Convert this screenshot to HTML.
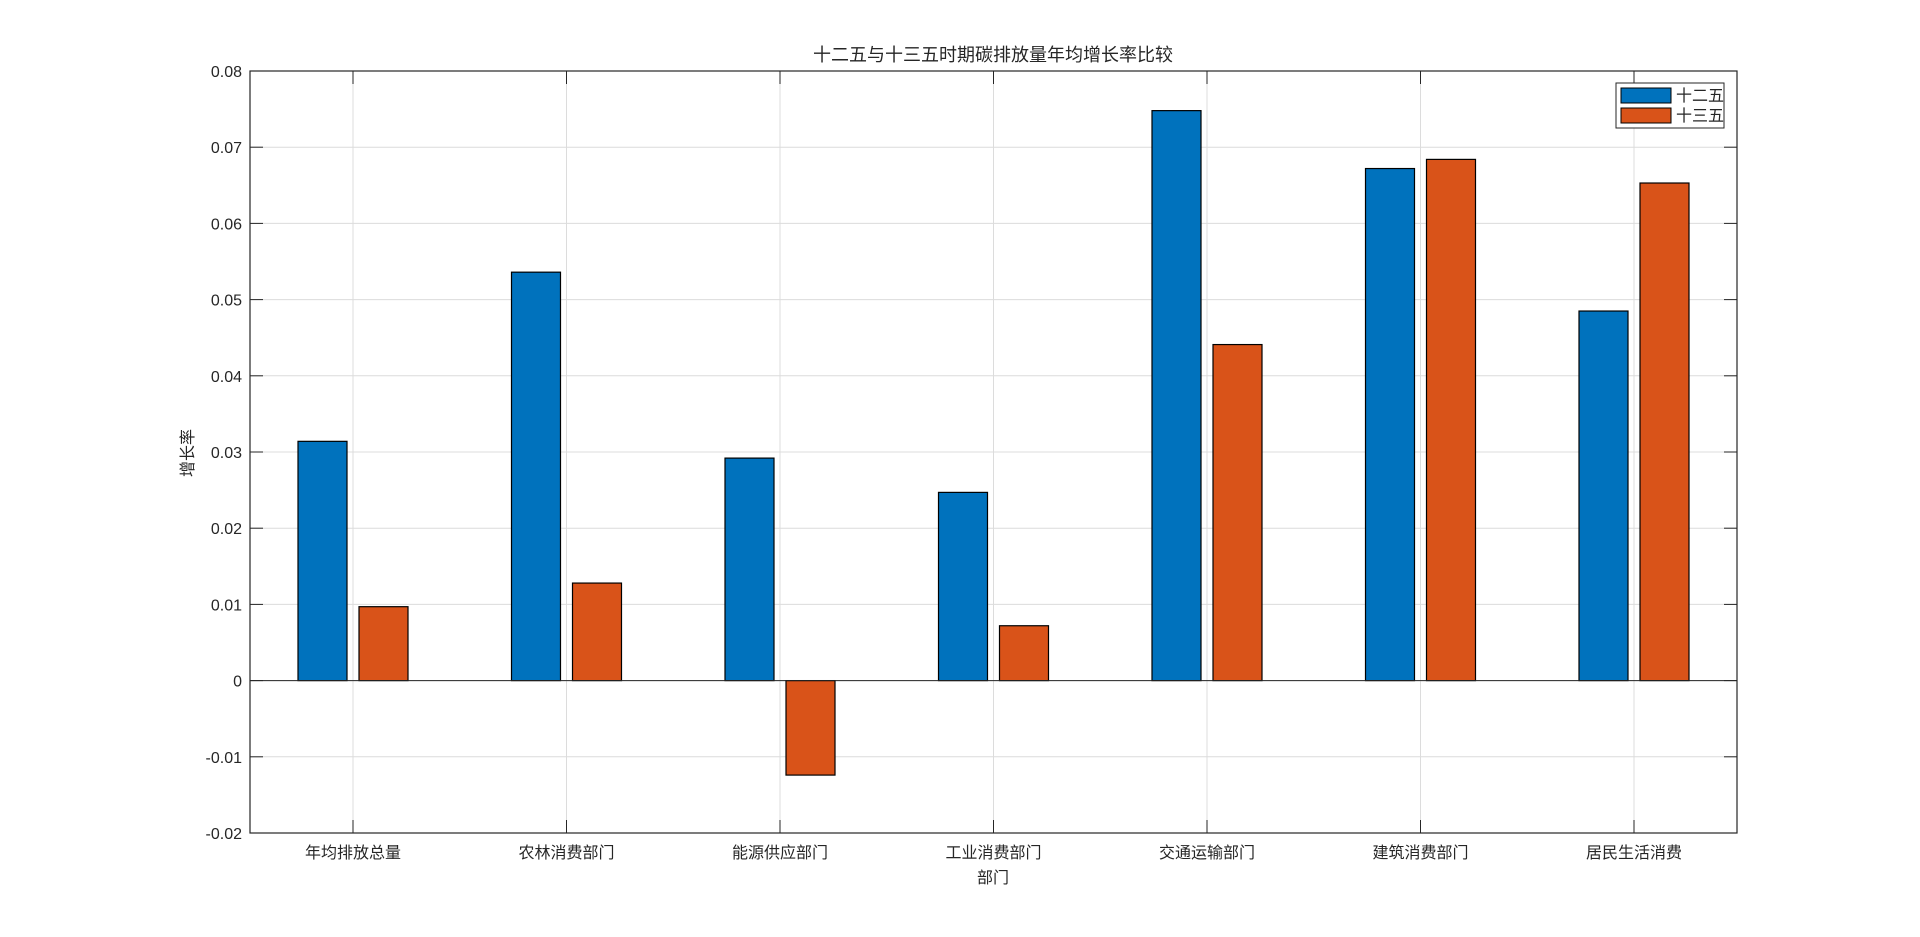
<!DOCTYPE html>
<html><head><meta charset="utf-8"><style>
html,body{margin:0;padding:0;background:#fff;}
svg{display:block;}
text{fill:#262626;}
.cjk{font-family:"Liberation Sans","Noto Sans CJK SC",sans-serif;}
.num{font-family:"Liberation Sans",sans-serif;font-size:16px;}
</style></head><body>
<svg id="chart" width="1920" height="937" xmlns="http://www.w3.org/2000/svg">
<rect width="1920" height="937" fill="#fff"/>
<g id="grid"></g>
<g id="bars"></g>
<g id="axes"></g>
<text x="993" y="61" text-anchor="middle" class="cjk" font-size="18">十二五与十三五时期碳排放量年均增长率比较</text>
<text x="993" y="883" text-anchor="middle" class="cjk" font-size="16">部门</text>
<text transform="translate(193,453) rotate(-90)" text-anchor="middle" class="cjk" font-size="16">增长率</text>
<g>
<rect x="1616" y="83" width="108" height="45" fill="#fff" stroke="#262626" stroke-width="1"/>
<rect x="1621" y="88" width="50" height="15" fill="#0072BD" stroke="#000"/>
<text x="1676" y="101" class="cjk" font-size="16">十二五</text>
<rect x="1621" y="108" width="50" height="15" fill="#D95319" stroke="#000"/>
<text x="1676" y="121" class="cjk" font-size="16">十三五</text>
</g>
</svg>
<script>
const categories = ["年均排放总量","农林消费部门","能源供应部门","工业消费部门","交通运输部门","建筑消费部门","居民生活消费"];
const series12 = [0.0314,0.0536,0.0292,0.0247,0.0748,0.0672,0.0485];
const series13 = [0.0097,0.0128,-0.0124,0.0072,0.0441,0.0684,0.0653];
const yTicks = [-0.02,-0.01,0,0.01,0.02,0.03,0.04,0.05,0.06,0.07,0.08];
const yTickLabels = ["-0.02","-0.01","0","0.01","0.02","0.03","0.04","0.05","0.06","0.07","0.08"];

const NS="http://www.w3.org/2000/svg";
const L=250,R=1737,T=71,B=833;
const yMin=-0.02,yMax=0.08;
function y(v){return B-(v-yMin)/(yMax-yMin)*(B-T);}
function x(i){return 353+(1634-353)/(categories.length-1)*i;}
function mk(tag,attrs,parent){const e=document.createElementNS(NS,tag);for(const k in attrs)e.setAttribute(k,attrs[k]);parent.appendChild(e);return e;}
const grid=document.getElementById('grid'),bars=document.getElementById('bars'),axes=document.getElementById('axes');
yTicks.forEach((t,i)=>{
  const g=mk('line',{x1:L,x2:R,y1:y(t),y2:y(t),stroke:'#dcdcdc','stroke-width':1},grid);
  
  
  const tl=mk('line',{x1:L,x2:L+13,y1:y(t),y2:y(t),stroke:'#262626'},axes);
  
  
  const tr=mk('line',{x1:R-13,x2:R,y1:y(t),y2:y(t),stroke:'#262626'},axes);
  
  
  const tx=mk('text',{x:L-8,y:y(t)+6,'text-anchor':'end','class':'num'},axes);
  tx.textContent=yTickLabels[i];
  
  
});
categories.forEach((c,i)=>{
  const g=mk('line',{x1:x(i),x2:x(i),y1:T,y2:B,stroke:'#dcdcdc'},grid);
  
  
  const tb=mk('line',{x1:x(i),x2:x(i),y1:B-13,y2:B,stroke:'#262626'},axes);
  
  
  const tt=mk('line',{x1:x(i),x2:x(i),y1:T,y2:T+13,stroke:'#262626'},axes);
  
  
  const tx=mk('text',{x:x(i),y:B+25,'text-anchor':'middle','class':'cjk','font-size':16},axes);
  tx.textContent=c;
  
  
  [[series12,'#0072BD',-30.5,'bar-12th'],[series13,'#D95319',30.5,'bar-13th']].forEach(([s,col,off,nm])=>{
    const v=s[i],y0=y(0),yv=y(v);
    const r=mk('rect',{x:x(i)+off-24.5,y:Math.min(y0,yv),width:49,height:Math.abs(y0-yv),fill:col,stroke:'#000','stroke-width':1.2},bars);
    
    
  });
});
const z=mk('line',{x1:L,x2:R,y1:y(0),y2:y(0),stroke:'#262626'},axes);


const box=mk('rect',{x:L,y:T,width:R-L,height:B-T,fill:'none',stroke:'#262626','stroke-width':1.2},axes);


</script>
</body></html>
